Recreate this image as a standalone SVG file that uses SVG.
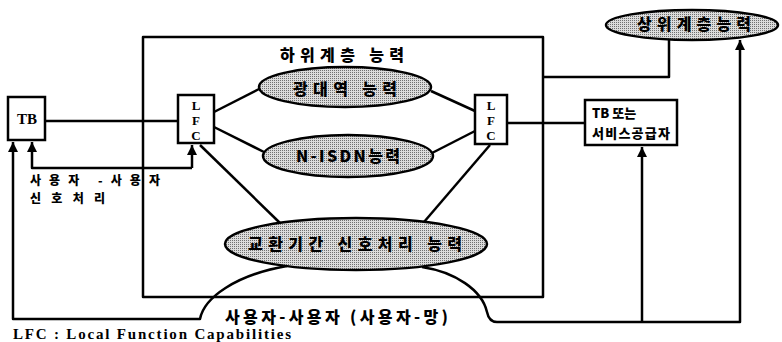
<svg xmlns="http://www.w3.org/2000/svg" width="782" height="342" viewBox="0 0 782 342">
<style>
.ln{fill:none;stroke:#000;stroke-width:2.5;stroke-linejoin:round}
.bx{fill:#fff;stroke:#000;stroke-width:2.5}
.el{fill:url(#dots);stroke:#000;stroke-width:2.5}
.ko{font-family:"Noto Sans CJK KR","Noto Sans",sans-serif;font-weight:900;font-size:16px;fill:#000}
.sm{font-size:13px}
.xs{font-size:12px}
.lat{font-family:"Liberation Serif","DejaVu Serif",serif;font-weight:bold;font-size:15px;fill:#000}
.lf{font-size:13px}
.mid{text-anchor:middle}
</style>
<defs>
<pattern id="dots" width="2" height="2" patternUnits="userSpaceOnUse">
<rect width="2" height="2" fill="#dcdcdc"/>
<rect width="1" height="1" fill="#707070"/>
</pattern>
<marker id="ah" viewBox="0 0 10 10" refX="10" refY="5" markerWidth="10" markerHeight="10" markerUnits="userSpaceOnUse" orient="auto">
<path d="M0,0 L10,5 L0,10 Z" fill="#000"/>
</marker>
</defs>

<g id="connectors">
<path class="ln" d="M543,77 H669 V40"/>
<path class="ln" d="M45,121 H178"/>
<path class="ln" d="M507,123 H585"/>
<path class="ln" d="M214,112 L259,89"/>
<path class="ln" d="M214,127 L264,152"/>
<path class="ln" d="M475,111 L431,91"/>
<path class="ln" d="M475,131 L432,153"/>
<path class="ln" d="M200,145 L280,223"/>
<path class="ln" d="M490,145 L424,222"/>
<path class="ln" d="M192,168 H32 V142" marker-end="url(#ah)"/>
<path class="ln" d="M192,168 V145" marker-end="url(#ah)"/>
<path class="ln" d="M287,266 C235,275 204,298 200,319 H13 V142" marker-end="url(#ah)"/>
<path class="ln" d="M422,267 C455,272 482,290 487,312 Q489,322 497,322 H740 V40" marker-end="url(#ah)"/>
<path class="ln" d="M642,322 V147" marker-end="url(#ah)"/>
</g>

<g id="lower-layer">
<rect class="ln" x="143" y="37" width="400" height="260"/>
<text class="ko mid" x="342" y="61" textLength="124" lengthAdjust="spacing">하위계층 능력</text>
</g>

<g id="upper-layer">
<ellipse class="el" cx="692" cy="25" rx="86" ry="15"/>
<text class="ko mid" x="694" y="30" textLength="114" lengthAdjust="spacing">상위계층능력</text>
</g>

<g id="broadband">
<ellipse class="el" cx="345" cy="87" rx="86" ry="20"/>
<text class="ko mid" x="345" y="95" textLength="104" lengthAdjust="spacing">광대역 능력</text>
</g>

<g id="nisdn">
<ellipse class="el" cx="348" cy="156" rx="85" ry="21"/>
<text class="ko mid" x="348" y="162" textLength="104" lengthAdjust="spacing">N-ISDN능력</text>
</g>

<g id="exchange">
<ellipse class="el" cx="356" cy="244" rx="131" ry="26"/>
<text class="ko mid" x="355" y="250" textLength="214" lengthAdjust="spacing">교환기간 신호처리 능력</text>
</g>

<g id="tb-left">
<rect class="bx" x="8" y="97" width="37" height="43"/>
<text class="lat mid" x="27" y="124" font-size="14">TB</text>
</g>

<g id="lfc-left">
<rect class="bx" x="178" y="95" width="36" height="48"/>
<text class="lat lf mid" x="196" y="110">L</text>
<text class="lat lf mid" x="196" y="125">F</text>
<text class="lat lf mid" x="196" y="140">C</text>
</g>

<g id="lfc-right">
<rect class="bx" x="475" y="95" width="32" height="49"/>
<text class="lat lf mid" x="491" y="110">L</text>
<text class="lat lf mid" x="491" y="125">F</text>
<text class="lat lf mid" x="491" y="140">C</text>
</g>

<g id="tb-provider">
<rect class="bx" x="585" y="100" width="92" height="45"/>
<text class="ko sm" x="592" y="118">TB 또는</text>
<text class="ko sm" x="592" y="138" textLength="78" lengthAdjust="spacing">서비스공급자</text>
</g>

<g id="labels">
<text class="ko xs" x="30" y="185" textLength="130" lengthAdjust="spacing">사용자 -사용자</text>
<text class="ko xs" x="30" y="203" textLength="75" lengthAdjust="spacing">신호처리</text>
<text class="ko" x="225" y="323" textLength="223" lengthAdjust="spacing">사용자-사용자 (사용자-망)</text>
<text class="lat" x="13" y="339" font-size="13" textLength="278" lengthAdjust="spacing">LFC : Local Function Capabilities</text>
</g>
</svg>
